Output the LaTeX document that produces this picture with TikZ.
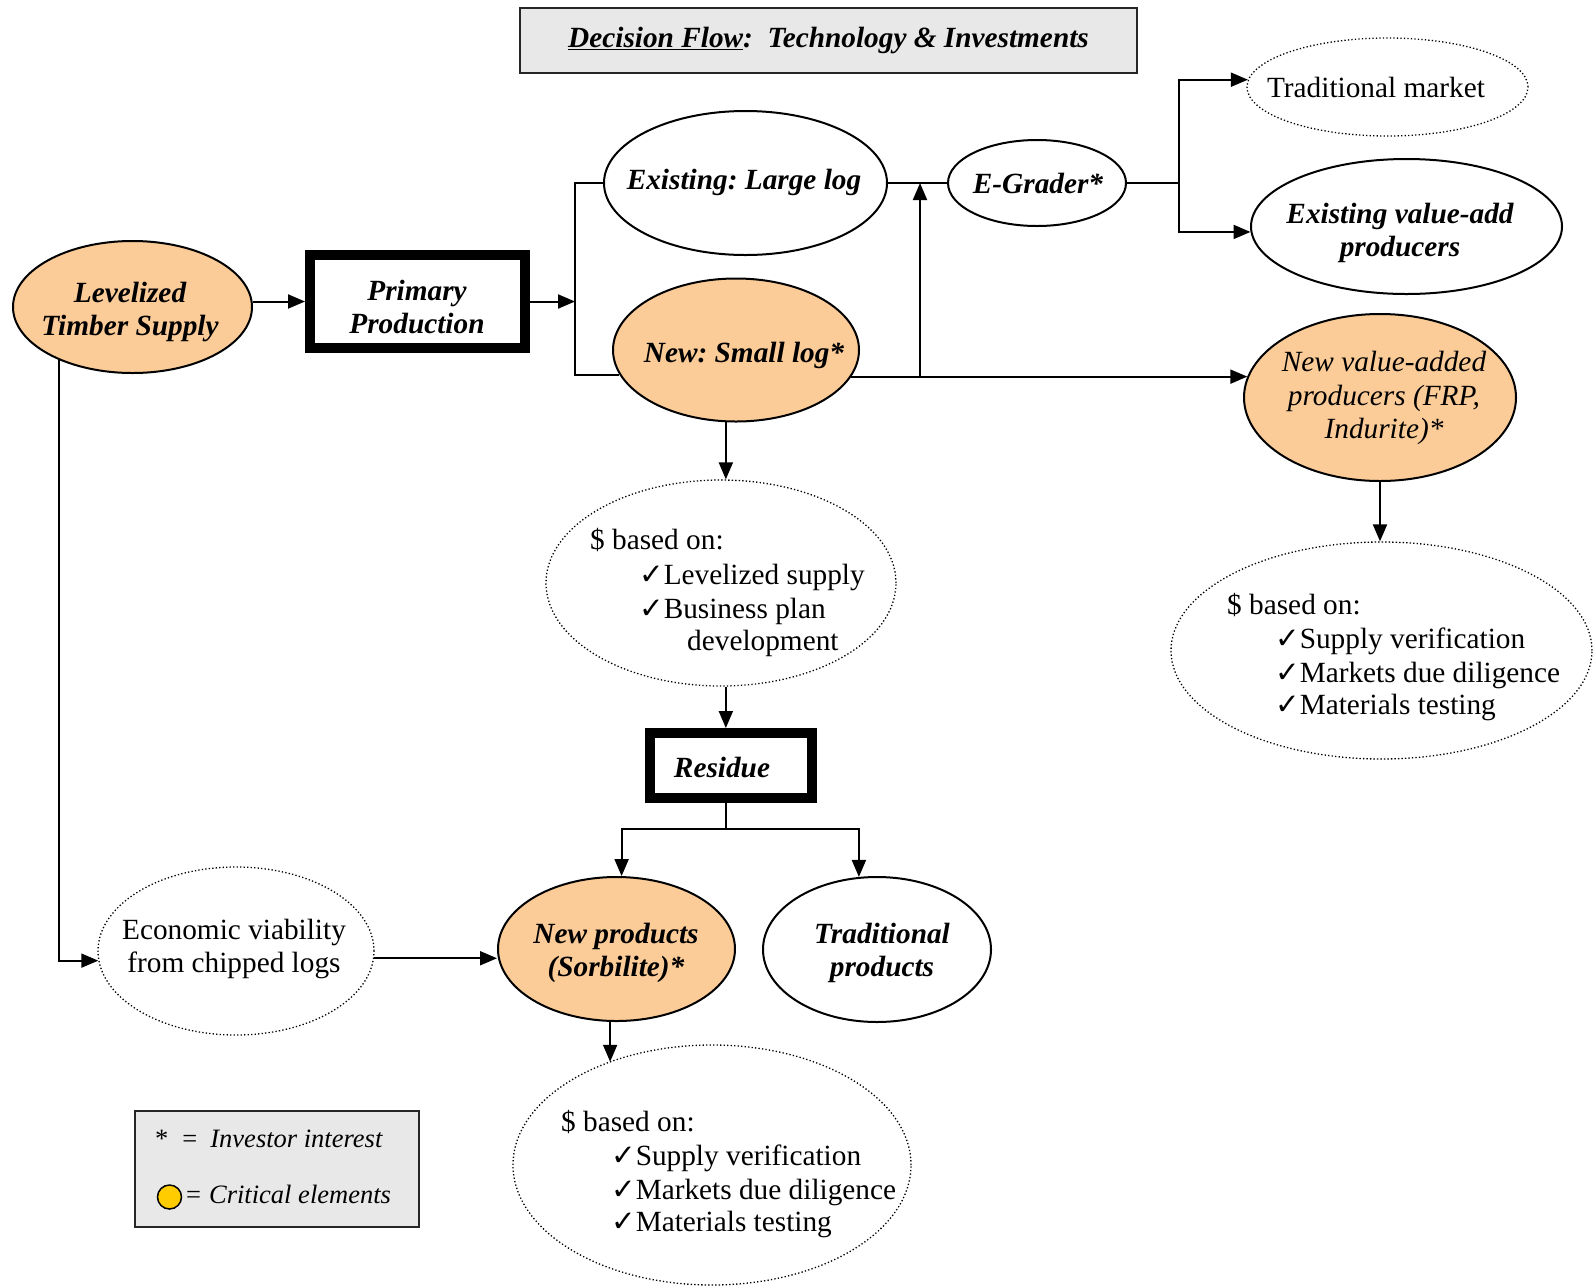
\documentclass[tikz,border=0pt]{standalone}
\usepackage{fontspec}
\setmainfont{Liberation Serif}
\newfontfamily\symf{DejaVu Sans}
\usetikzlibrary{shapes.geometric}
\usetikzlibrary{arrows.meta}
\usetikzlibrary{positioning,calc}
\definecolor{peach}{HTML}{FBCB98}
\definecolor{panel}{HTML}{E8E8E8}
\definecolor{gold}{HTML}{FFCC00}
\newcommand{\bigtxt}{\fontsize{29.3}{33.5}\selectfont}
\newcommand{\legtxt}{\fontsize{26.5}{30}\selectfont}
\newcommand{\chk}{{\symf ✓}}
\frenchspacing

\begin{document}
\begin{tikzpicture}[x=1pt,y=-1pt,
         oval/.style = {ellipse, draw, line width=2pt, inner sep=0pt},
         crit/.style = {oval, fill=peach},
         dots/.style = {ellipse, draw, line width=1.3pt,
            dash pattern=on 1.3pt off 2.2pt, inner sep=0pt},
         heavybox/.style = {rectangle, draw, line width=10pt, inner sep=0pt},
         panelbox/.style = {rectangle, draw=black!85, fill=panel,
            line width=1.5pt, inner sep=0pt},
         bold/.style = {font=\bigtxt\bfseries\itshape, align=center, inner sep=0pt},
         reg/.style = {font=\bigtxt, align=center, inner sep=0pt},
         chkline/.style = {font=\bigtxt, anchor=base west, inner sep=0pt},
         wire/.style = {line width=2pt},
         arr/.style = {wire, -{Triangle[length=17pt,width=14pt]}}
]
   \useasboundingbox (0,0) rectangle (1596,1286);

   % title
   \node[panelbox, minimum width=617pt, minimum height=65pt, font=\bigtxt\bfseries\itshape]
      (title) at (828.5,40.5) {\underline{Decision Flow}:\ \ Technology \& Investments};

   % supply and primary production
   \node[crit, minimum width=239pt, minimum height=132pt] (lts) at (132.5,307) {};
   \node[bold] (ltsT) at (130,312) {Levelized\\Timber Supply};
   \node[heavybox, minimum width=215pt, minimum height=93pt] (prim) at (417.5,301.5) {};
   \node[bold] (primT) at (417,307) {Primary\\Production};

   % log classes
   \node[oval, minimum width=283pt, minimum height=144pt] (large) at (745.5,183) {};
   \node[bold] (largeT) at (744,182) {Existing: Large log};
   \node[crit, minimum width=246pt, minimum height=143pt] (small) at (736,350) {};
   \node[bold] (smallT) at (744,355) {New: Small log*};
   \node[oval, minimum width=178pt, minimum height=86pt] (egr) at (1037,183) {};
   \node[bold] (egrT) at (1038,183) {E-Grader*};

   % markets
   \node[dots, minimum width=281pt, minimum height=98pt] (tm) at (1387.5,87) {};
   \node[reg] (tmT) at (1376,87) {Traditional market};
   \node[oval, minimum width=311pt, minimum height=135pt] (evap) at (1406.5,226.5) {};
   \node[bold] (evapT) at (1400,233) {Existing value-add\\producers};
   \node[crit, minimum width=272pt, minimum height=167pt] (nvap) at (1380,397.5) {};
   \node[reg, font=\bigtxt\itshape] (nvapT) at (1384,398)
      {New value-added\\producers (FRP,\\Indurite)*};

   % funding ellipses
   \node[dots, minimum width=350pt, minimum height=206pt] (mid) at (721,583) {};
   \node[chkline] (midA) at (590,549) {\$ based on:};
   \node[chkline] (midB) at (639,584) {\chk Levelized supply};
   \node[chkline] (midC) at (639,618) {\chk Business plan};
   \node[chkline] (midD) at (687,650) {development};

   \node[dots, minimum width=421pt, minimum height=217pt] (rdol) at (1381.5,650.5) {};
   \node[chkline] (rdolA) at (1227,614) {\$ based on:};
   \node[chkline] (rdolB) at (1275,648) {\chk Supply verification};
   \node[chkline] (rdolC) at (1275,682) {\chk Markets due diligence};
   \node[chkline] (rdolD) at (1275,714) {\chk Materials testing};

   % residue
   \node[heavybox, minimum width=162pt, minimum height=65pt] (res) at (731,765.5) {};
   \node[bold] (resT) at (722,767) {Residue};
   \node[dots, minimum width=276pt, minimum height=168pt] (ev) at (236,951) {};
   \node[reg] (evT) at (234,949) {Economic viability\\from chipped logs};
   \node[crit, minimum width=237pt, minimum height=144pt] (np) at (616.5,949) {};
   \node[bold] (npT) at (616,953) {New products\\(Sorbilite)*};
   \node[oval, minimum width=228pt, minimum height=145pt] (tp) at (877,949.5) {};
   \node[bold] (tpT) at (882,953) {Traditional\\products};

   \node[dots, minimum width=398pt, minimum height=240pt] (bot) at (712,1165) {};
   \node[chkline] (botA) at (561,1131) {\$ based on:};
   \node[chkline] (botB) at (611,1165) {\chk Supply verification};
   \node[chkline] (botC) at (611,1199) {\chk Markets due diligence};
   \node[chkline] (botD) at (611,1231) {\chk Materials testing};

   % legend
   \node[panelbox, minimum width=284pt, minimum height=116pt] (legend) at (277,1169) {};
   \node[font=\legtxt, anchor=base west, inner sep=0pt] (legstar) at (155,1147)
      {*\hspace{14pt}=\hspace{13pt}\textit{Investor interest}};
   \node[circle, draw, line width=1.5pt, fill=gold, minimum size=24pt, inner sep=0pt]
      (legdot) at (169.5,1197) {};
   \node[font=\legtxt, anchor=base west, inner sep=0pt] (legcrit) at (186,1203)
      {=\hspace{8pt}\textit{Critical elements}};

   % junctions
   \coordinate (split) at (575,301.5);
   \coordinate (riseX) at (920,0);
   \coordinate (fork) at (1179,183);
   \coordinate (resfoot) at (726,829);

   % connectors
   \draw[arr] (lts.east |- prim.west) -- (prim.west);
   \draw[arr] (prim.east) -- (split);
   \draw[wire] (large.west) -| (split) |- (small.192);
   \draw[wire] (large.east) -- (egr.west);
   \draw[arr] (small.-13) -- (small.-13 -| nvap.171);
   \draw[arr] (small.-13 -| riseX) -- (riseX |- egr.west);
   \draw[wire] (egr.east) -- (fork);
   \draw[arr] (fork) |- (tm.177);
   \draw[arr] (fork) |- (evap.182);
   \draw[arr] (nvap.south) -- (nvap.south |- rdol.north);
   \draw[arr] (small.-98) -- (small.-98 |- mid.north);
   \draw[arr] (mid.south -| small.-98) -- (res.north -| small.-98);
   \draw[wire] (res.south -| resfoot) -- (resfoot);
   \draw[arr] (resfoot) -| (np.86);
   \draw[arr] (resfoot) -| (tp.104);
   \draw[arr] (lts.216) |- (ev.184);
   \draw[arr] (ev.-3) -- (ev.-3 -| np.west);
   \draw[arr] (np.-95) -- (np.-95 |- bot.135);
\end{tikzpicture}
\end{document}
